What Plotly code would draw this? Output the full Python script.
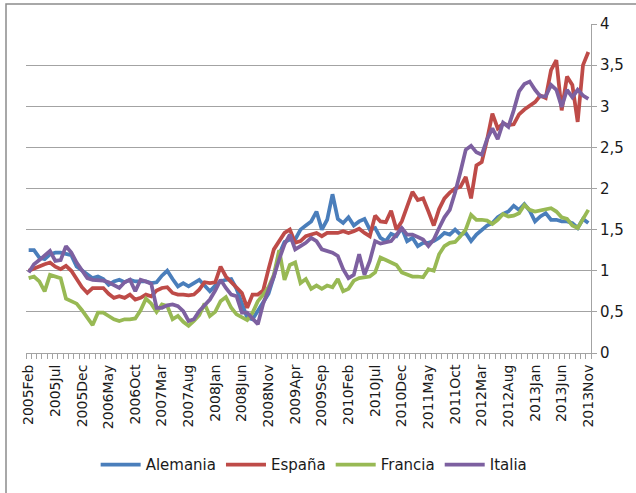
import pandas as pd
import plotly.graph_objects as go

# Monthly categories 2005Feb .. 2013Nov
months = [p.strftime("%Y%b") for p in pd.period_range("2005-02", "2013-11", freq="M")]

alemania = [1.25,1.25,1.16,1.14,1.20,1.22,1.22,1.20,1.19,1.05,
            1.00,0.96,0.91,0.93,0.90,0.83,0.87,0.89,0.86,0.89,
            0.87,0.87,0.87,0.85,0.86,0.94,1.00,0.90,0.81,0.85,
            0.81,0.85,0.89,0.82,0.75,0.82,0.87,0.89,0.90,0.78,
            0.60,0.43,0.41,0.51,0.61,0.72,0.93,1.20,1.35,1.38,
            1.38,1.50,1.55,1.60,1.72,1.50,1.62,1.93,1.63,1.58,
            1.65,1.55,1.60,1.63,1.50,1.52,1.40,1.36,1.45,1.42,
            1.52,1.36,1.40,1.30,1.34,1.34,1.36,1.40,1.46,1.44,
            1.50,1.44,1.46,1.36,1.44,1.50,1.55,1.58,1.65,1.69,
            1.72,1.79,1.74,1.81,1.73,1.60,1.66,1.70,1.62,1.62,
            1.60,1.60,1.58,1.52,1.63,1.58]

espana = [1.00,1.03,1.06,1.08,1.10,1.05,1.02,1.06,1.00,0.90,
          0.80,0.73,0.79,0.79,0.79,0.72,0.67,0.69,0.67,0.71,
          0.65,0.67,0.71,0.69,0.76,0.79,0.80,0.73,0.71,0.71,
          0.70,0.71,0.77,0.86,0.85,0.86,1.05,0.93,0.86,0.80,
          0.73,0.55,0.71,0.71,0.76,1.02,1.26,1.36,1.46,1.50,
          1.34,1.36,1.42,1.44,1.46,1.42,1.46,1.46,1.46,1.48,
          1.46,1.48,1.51,1.46,1.42,1.67,1.60,1.59,1.73,1.50,
          1.60,1.78,1.96,1.86,1.88,1.72,1.55,1.75,1.88,1.95,
          2.00,2.02,2.14,1.88,2.28,2.32,2.59,2.91,2.73,2.79,
          2.77,2.78,2.90,2.96,3.00,3.05,3.13,3.10,3.44,3.56,
          2.95,3.36,3.26,2.81,3.50,3.66]

francia = [0.91,0.93,0.87,0.75,0.95,0.93,0.91,0.66,0.63,0.60,
           0.52,0.42,0.34,0.49,0.49,0.45,0.41,0.39,0.41,0.41,
           0.42,0.52,0.66,0.60,0.50,0.59,0.57,0.41,0.45,0.38,
           0.33,0.39,0.46,0.60,0.45,0.50,0.63,0.68,0.55,0.47,
           0.43,0.40,0.49,0.63,0.71,0.80,0.95,1.25,0.89,1.07,
           1.10,0.85,0.90,0.78,0.82,0.78,0.82,0.80,0.90,0.75,
           0.78,0.88,0.91,0.92,0.93,0.98,1.16,1.13,1.10,1.07,
           0.98,0.95,0.93,0.93,0.92,1.02,1.00,1.20,1.30,1.34,
           1.35,1.42,1.50,1.68,1.62,1.62,1.61,1.57,1.62,1.69,
           1.66,1.67,1.70,1.80,1.74,1.72,1.73,1.75,1.76,1.72,
           1.65,1.63,1.55,1.52,1.62,1.74]

italia = [0.98,1.08,1.13,1.18,1.24,1.12,1.13,1.30,1.22,1.10,
          1.00,0.91,0.89,0.89,0.88,0.86,0.83,0.79,0.86,0.89,
          0.75,0.89,0.87,0.84,0.55,0.55,0.58,0.59,0.57,0.51,
          0.39,0.41,0.51,0.58,0.65,0.76,0.89,0.79,0.71,0.69,
          0.49,0.49,0.42,0.35,0.60,0.77,0.93,1.14,1.32,1.44,
          1.26,1.30,1.34,1.40,1.36,1.26,1.24,1.22,1.18,1.02,
          0.91,0.95,1.20,0.95,1.12,1.36,1.33,1.34,1.36,1.44,
          1.52,1.44,1.44,1.41,1.38,1.30,1.38,1.52,1.65,1.74,
          1.95,2.20,2.47,2.52,2.44,2.41,2.60,2.73,2.60,2.80,
          2.75,2.95,3.18,3.27,3.30,3.20,3.12,3.12,3.26,3.20,
          2.99,3.20,3.11,3.20,3.13,3.09]

series_names = ["Alemania", "España", "Francia", "Italia"]
series_values = [alemania, espana, francia, italia]
colors = ["#4A7EBB", "#BE4B48", "#98B954", "#7D60A0"]

y_ticks = [0, 0.5, 1, 1.5, 2, 2.5, 3, 3.5, 4]
y_ticktext = ["0", "0,5", "1", "1,5", "2", "2,5", "3", "3,5", "4"]

label_step = 5
idx = list(range(len(months)))

W, H = 636, 493
ML, MR, MT, MB = 26, 45, 24, 140
FONT = "'DejaVu Sans', sans-serif"
GRID = "#a3a3a3"

fig = go.Figure()
for name, vals, col in zip(series_names, series_values, colors):
    fig.add_trace(go.Scatter(
        x=idx, y=vals, name=name, mode="lines",
        line=dict(color=col, width=3.75),
        customdata=months,
        hovertemplate="%{customdata}: %{y}<extra>" + name + "</extra>",
    ))

fig.update_layout(
    width=W, height=H,
    margin=dict(l=ML, r=MR, t=MT, b=MB, pad=0),
    paper_bgcolor="white", plot_bgcolor="white",
    font=dict(family=FONT, size=14, color="#1a1a1a"),
    showlegend=True,
    legend=dict(orientation="h", x=0.51, xanchor="center", y=-0.34, yanchor="middle",
                font=dict(size=15), itemwidth=40, traceorder="normal"),
    xaxis=dict(
        range=[-0.5, len(months) - 0.5],
        tickmode="array",
        tickvals=idx[::label_step],
        ticktext=months[::label_step],
        tickangle=-90,
        ticks="",
        ticklabelstandoff=5,
        showgrid=False, zeroline=False,
        showline=True, linecolor=GRID, linewidth=1,
        minor=dict(ticks="outside", tick0=-0.5, dtick=1, ticklen=5, tickcolor=GRID, showgrid=False),
        tickfont=dict(size=14),
    ),
    yaxis=dict(
        side="right",
        range=[0, 4],
        tickmode="array", tickvals=y_ticks, ticktext=y_ticktext,
        showgrid=True, gridcolor=GRID, gridwidth=1,
        zeroline=False,
        showline=True, linecolor=GRID, linewidth=1,
        ticks="outside", ticklen=5, tickcolor=GRID,
        tickfont=dict(size=15),
    ),
)

# outer chart-area border (in paper coordinates)
pw = W - ML - MR
ph = H - MT - MB
def px_x(p):
    return (p - ML) / pw
def px_y(p):
    return (H - MB - p) / ph
fig.add_shape(type="rect", xref="paper", yref="paper",
              x0=px_x(6), x1=px_x(W + 5), y0=px_y(H + 5), y1=px_y(4),
              line=dict(color="#8c8c8c", width=1.5), fillcolor="rgba(0,0,0,0)", layer="below")

fig.write_html("out.html", config={"displayModeBar": False},
               post_script="document.body.style.margin='0';")
